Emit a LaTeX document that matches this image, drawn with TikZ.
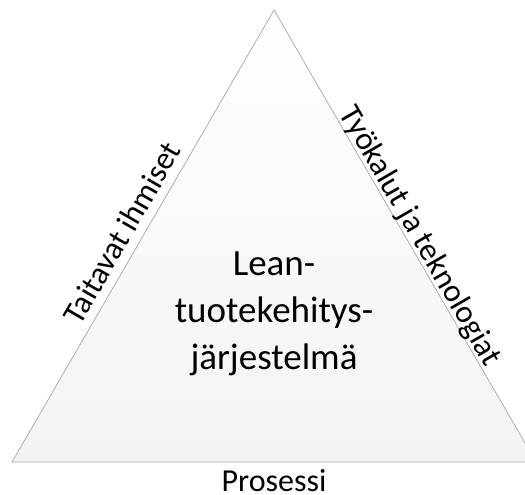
\documentclass[tikz,border=0pt]{standalone}
\usepackage{fontspec}
\setmainfont{Carlito}
\usetikzlibrary{calc}
\definecolor{fillgray}{HTML}{F1F3F5}
\begin{document}
\begin{tikzpicture}[x=1pt,y=1pt,
  edge/.style={draw=black!35, line width=0.7pt},
  sidelabel/.style={font=\fontsize{32}{38}\selectfont, inner sep=0pt, anchor=base},
  centerlabel/.style={font=\fontsize{37}{47}\selectfont, align=center, inner sep=0pt}
  ]
\useasboundingbox (0,0) rectangle (525,495);
\clip (0,0) rectangle (525,495);
\coordinate (A) at (274,485);
\coordinate (BL) at (12,33);
\coordinate (BR) at (536,33);
\path[edge, top color=white, bottom color=fillgray] (BL) -- (A) -- (BR) -- cycle;
\node[sidelabel, rotate=60] (left) at ($($(BL)!0.485!(A)$)+(150:9)$) {Taitavat ihmiset};
\node[sidelabel, rotate=-60] (right) at ($($(A)!0.515!(BR)$)+(30:4)$) {Työkalut ja teknologiat};
\node[sidelabel, text depth=0pt] (bottom) at (274,3) {Prosessi};
\node[centerlabel] (center) at (274,181) {Lean-\\tuotekehitys-\\järjestelmä};
\end{tikzpicture}
\end{document}
